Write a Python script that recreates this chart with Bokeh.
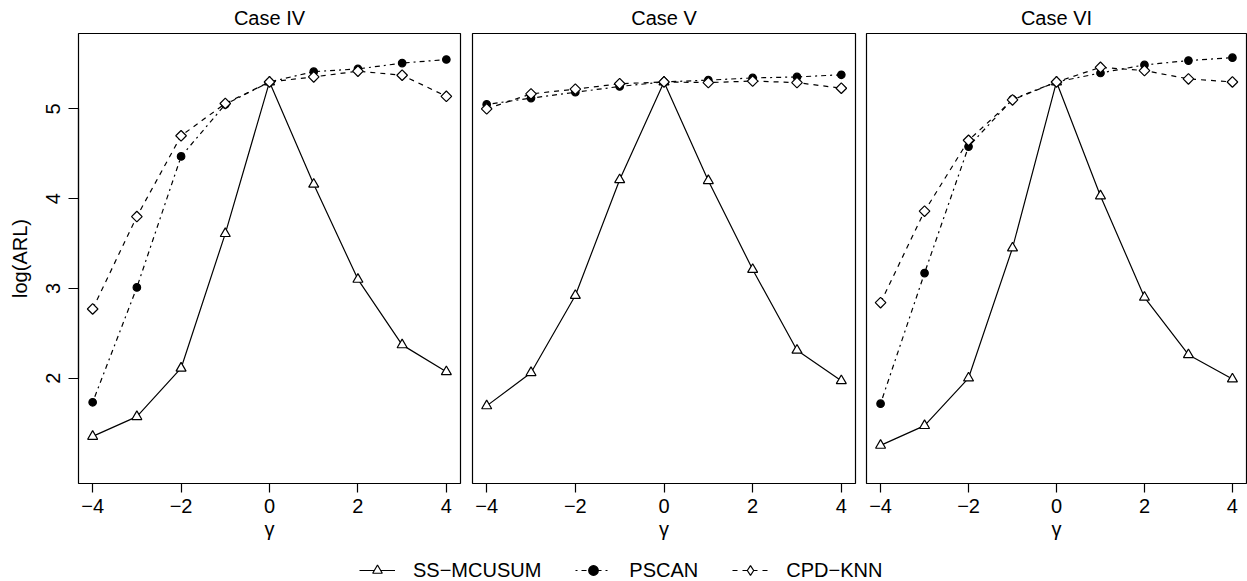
from math import pi
from bokeh.plotting import figure
from bokeh.layouts import row, column
from bokeh.models import Range1d, FixedTicker, Legend, LegendItem
from bokeh.embed import file_html
from bokeh.resources import INLINE

# ---------------- data ----------------
gamma = [-4, -3, -2, -1, 0, 1, 2, 3, 4]
case_titles = ["Case IV", "Case V", "Case VI"]
series_names = ["SS\u2212MCUSUM", "PSCAN", "CPD\u2212KNN"]
x_ticks = [-4, -2, 0, 2, 4]
x_tick_labels = ["\u22124", "\u22122", "0", "2", "4"]
y_ticks = [2, 3, 4, 5]
y_tick_labels = ["2", "3", "4", "5"]

ss_case4 = [1.35, 1.57, 2.11, 3.61, 5.30, 4.16, 3.10, 2.37, 2.07]
pscan_case4 = [1.73, 3.01, 4.47, 5.05, 5.30, 5.415, 5.445, 5.51, 5.55]
knn_case4 = [2.77, 3.80, 4.70, 5.06, 5.30, 5.356, 5.42, 5.375, 5.14]

ss_case5 = [1.69, 2.06, 2.92, 4.21, 5.30, 4.20, 3.21, 2.31, 1.97]
pscan_case5 = [5.05, 5.12, 5.185, 5.25, 5.30, 5.32, 5.345, 5.356, 5.38]
knn_case5 = [5.00, 5.167, 5.22, 5.28, 5.30, 5.293, 5.31, 5.293, 5.23]

ss_case6 = [1.25, 1.47, 2.00, 3.45, 5.30, 4.03, 2.90, 2.26, 1.99]
pscan_case6 = [1.715, 3.17, 4.58, 5.107, 5.30, 5.40, 5.49, 5.538, 5.571]
knn_case6 = [2.84, 3.86, 4.65, 5.10, 5.30, 5.463, 5.427, 5.334, 5.30]

cases = [
    [ss_case4, pscan_case4, knn_case4],
    [ss_case5, pscan_case5, knn_case5],
    [ss_case6, pscan_case6, knn_case6],
]

# ---------------- styles ----------------
FONT = "Liberation Sans"
INK = "black"
styles = [
    dict(line_dash="solid", marker="triangle", size=10, fill="white", angle=0.0,
         legend_marker="triangle"),
    dict(line_dash="2 4 5 4", marker="circle", size=7.5, fill="black", angle=0.0,
         legend_marker="circle"),
    dict(line_dash="5 5", marker="square", size=7.5, fill="white", angle=pi / 4,
         legend_marker="diamond"),
]
LW = 1.2

widths = [466, 394, 387]
borders_l = [78, 6, 6]
borders_r = [6, 5, 1]
H = 545


def draw_series(p, x, y, st, marker=None):
    ln = p.line(x, y, line_color=INK, line_width=LW, line_dash=st["line_dash"])
    sc = p.scatter(x, y, marker=marker or st["marker"], size=st["size"], angle=st["angle"],
                   line_color=INK, line_width=LW, fill_color=st["fill"])
    return ln, sc


def style_axis(ax, tick_len):
    ax.minor_tick_line_color = None
    ax.major_tick_in = 0
    ax.major_tick_out = tick_len
    ax.major_tick_line_width = 1.2
    ax.major_tick_line_color = INK
    ax.axis_line_width = 1.2
    ax.axis_line_color = INK
    ax.major_label_text_font = FONT
    ax.major_label_text_font_size = "20px"
    ax.major_label_text_color = INK
    ax.axis_label_text_font = FONT
    ax.axis_label_text_font_size = "20px"
    ax.axis_label_text_font_style = "normal"
    ax.axis_label_text_color = INK


figs = []
for i, title in enumerate(case_titles):
    p = figure(width=widths[i], height=H, output_backend="svg", toolbar_location=None,
               x_range=Range1d(-4.32, 4.32), y_range=Range1d(0.825, 5.84),
               min_border_left=borders_l[i], min_border_right=borders_r[i],
               min_border_top=33, min_border_bottom=62,
               y_axis_location="left" if i == 0 else None)
    p.title.text = title
    p.title.align = "center"
    p.title.text_font = FONT
    p.title.text_font_size = "20px"
    p.title.text_font_style = "normal"
    p.title.text_color = INK
    p.title.standoff = 9
    p.xgrid.visible = False
    p.ygrid.visible = False
    p.outline_line_color = INK
    p.outline_line_width = 1.2
    p.background_fill_color = "white"
    p.border_fill_color = "white"

    xa = p.xaxis[0]
    style_axis(xa, 9)
    xa.ticker = FixedTicker(ticks=x_ticks)
    xa.major_label_overrides = {t: s for t, s in zip(x_ticks, x_tick_labels)}
    xa.bounds = (-4, 4)
    xa.major_label_standoff = 6
    xa.axis_label = "\u03b3"
    xa.axis_label_standoff = 2

    if i == 0:
        ya = p.yaxis[0]
        style_axis(ya, 10)
        ya.ticker = FixedTicker(ticks=y_ticks)
        ya.major_label_overrides = {t: s for t, s in zip(y_ticks, y_tick_labels)}
        ya.bounds = (2, 5)
        ya.major_label_orientation = "vertical"
        ya.major_label_standoff = 8
        ya.axis_label = "log(ARL)"
        ya.axis_label_standoff = 13

    for vals, st in zip(cases[i], styles):
        draw_series(p, gamma, vals, st)
    figs.append(p)

# ---------------- legend strip ----------------
lg = figure(width=1247, height=581 - H, output_backend="svg", toolbar_location=None,
            x_range=Range1d(0, 1), y_range=Range1d(0, 1), min_border=0,
            x_axis_location=None, y_axis_location=None)
lg.xgrid.visible = False
lg.ygrid.visible = False
lg.outline_line_color = None
lg.background_fill_color = "white"
lg.border_fill_color = "white"

items = []
for name, st in zip(series_names, styles):
    # placed outside the visible range: only the legend samples show
    ln, sc = draw_series(lg, [5, 6], [5, 6], st, marker=st["legend_marker"])
    items.append(LegendItem(label=name, renderers=[ln, sc]))

legend = Legend(items=items, orientation="horizontal", location=(359, -1),
                glyph_width=36, glyph_height=24, label_standoff=18, spacing=34,
                padding=0, margin=0, border_line_alpha=0, background_fill_alpha=0,
                label_text_font=FONT, label_text_font_size="20px",
                label_text_color=INK, label_height=20)
lg.add_layout(legend)

layout = column(row(*figs, spacing=0), lg, spacing=0)
open("out.html", "w").write(file_html(layout, INLINE))
